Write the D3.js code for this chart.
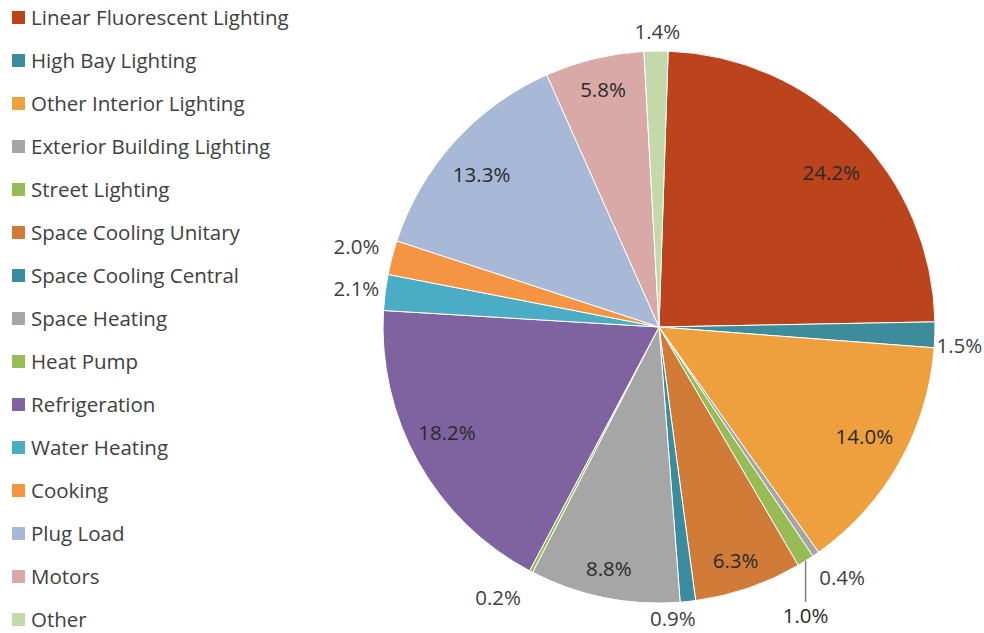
<!DOCTYPE html>
<html>
<head>
<meta charset="utf-8">
<script src="https://cdn.jsdelivr.net/npm/d3@7"></script>
<style>
  body { margin: 0; background: #fff; }
  svg text { font-family: "Open Sans", "Liberation Sans", sans-serif; }
</style>
</head>
<body>
<svg id="chart" width="984" height="633"></svg>
<script>
// categories and values (percent), clockwise from 12 o'clock
const categories = ["Linear Fluorescent Lighting", "High Bay Lighting", "Other Interior Lighting",
  "Exterior Building Lighting", "Street Lighting", "Space Cooling Unitary", "Space Cooling Central",
  "Space Heating", "Heat Pump", "Refrigeration", "Water Heating", "Cooking", "Plug Load", "Motors", "Other"]
const values = [24.2, 1.5, 14.0, 0.4, 1.0, 6.3, 0.9, 8.8, 0.2, 18.2, 2.1, 2.0, 13.3, 5.8, 1.4]
const colors = ["#BC441D", "#3D8C9C", "#EEA03E", "#A5A5A5", "#97BC55", "#D07C38", "#3A8C9E",
  "#A6A6A6", "#99BB58", "#7F62A0", "#4AACC5", "#F59443", "#A8B9D7", "#D9A9A8", "#C4D9AA"]

const svg = d3.select("#chart")

const cx = 659, cy = 327, R = 276
const startOffset = 1.9 * Math.PI / 180

const pie = d3.pie().sort(null).value(d => d)
    .startAngle(startOffset).endAngle(startOffset + 2 * Math.PI)
const arcs = pie(values)
const arc = d3.arc().innerRadius(0).outerRadius(R)

const g = svg.append("g").attr("transform", "translate(" + cx + "," + cy + ")")

g.selectAll("path.slice")
    .data(arcs)
    .enter().append("path")
    .attr("class", "slice")
    .attr("d", arc)
    .attr("fill", (d, i) => colors[i])
    .attr("stroke", "#fff")
    .attr("stroke-width", 1)

// label placement (radius from center, small angle nudge in degrees) - mimics Excel best fit
const labelR = [231, 301, 233, 310, 0, 246, 292, 247, 315, 237, 305, 313, 234, 244, 295]
const labelNudge = [2.8, 2, -1.3, -1.6, 0, 0.8, 3.3, 0.3, 3.1, 2.8, 0, 0.3, -1.4, 0.3, 0.3]
const leaderIdx = 4, leaderLen = 55

const labelPos = (d, i) => {
    let a = (d.startAngle + d.endAngle) / 2
    if (i === leaderIdx) {
        return [Math.sin(a) * R, -Math.cos(a) * R + leaderLen]
    }
    a += labelNudge[i] * Math.PI / 180
    return [Math.sin(a) * labelR[i], -Math.cos(a) * labelR[i]]
}

// leader line for Street Lighting
const street = arcs[leaderIdx]
const sa = (street.startAngle + street.endAngle) / 2
const lp = labelPos(street, leaderIdx)
g.append("line")
    .attr("x1", lp[0]).attr("y1", -Math.cos(sa) * R)
    .attr("x2", lp[0]).attr("y2", lp[1] - 14)
    .attr("stroke", "#808080").attr("stroke-width", 1.5)

g.selectAll("text.lbl")
    .data(arcs)
    .enter().append("text")
    .attr("class", "lbl")
    .attr("x", (d, i) => labelPos(d, i)[0])
    .attr("y", (d, i) => labelPos(d, i)[1])
    .attr("dy", "0.36em")
    .attr("text-anchor", "middle")
    .attr("font-size", 20.5)
    .attr("fill", (d, i) => labelR[i] < R ? "#2a2a2a" : "#404040")
    .text(d => d.data.toFixed(1) + "%")

// legend
const legend = svg.append("g").attr("transform", "translate(12,11)")
const rows = legend.selectAll("g.row")
    .data(categories)
    .enter().append("g")
    .attr("class", "row")
    .attr("transform", (d, i) => "translate(0," + (i * 43) + ")")

rows.append("rect")
    .attr("width", 13).attr("height", 13)
    .attr("fill", (d, i) => colors[i])

rows.append("text")
    .attr("x", 19)
    .attr("y", 14)
    .attr("font-size", 20.5)
    .attr("fill", "#404040")
    .text(d => d)
</script>
</body>
</html>
